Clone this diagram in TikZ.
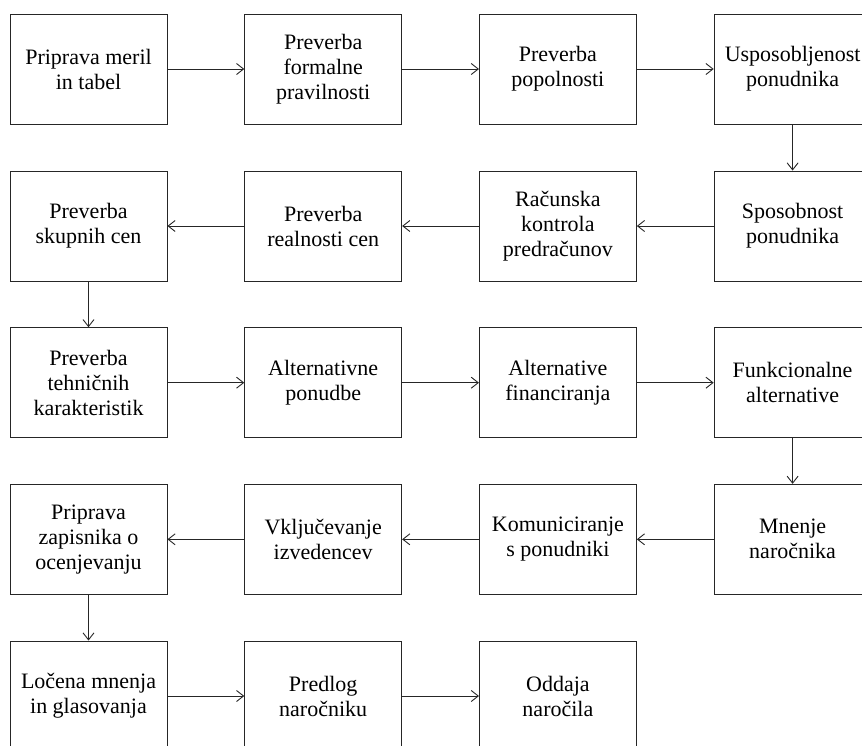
\documentclass[tikz,border=0pt]{standalone}
\usepackage{fontspec}
\setmainfont{Liberation Serif}
\usetikzlibrary{arrows.meta}
\begin{document}
\begin{tikzpicture}[x=1pt,y=-1pt,
  box/.style={draw=black!85, line width=0.9pt, minimum width=157pt, minimum height=110pt,
    inner sep=0pt, align=center, font=\fontsize{22}{25}\selectfont},
  flow/.style={draw=black!85, line width=0.9pt, -{Straight Barb[length=7pt,width=11pt,line width=0.9pt]}}]
\clip (0,0) rectangle (862,745);
\fill[white] (0,0) rectangle (862,745);
% columns 88.5, 323.2, 557.9, 792.6 ; rows 69, 226, 382.7, 539.3, 696
\node[box] (a1) at (88.5,69) {Priprava meril\\in tabel};
\node[box] (a2) at (323.2,69) {Preverba\\formalne\\pravilnosti};
\node[box] (a3) at (557.9,69) {Preverba\\popolnosti};
\node[box] (a4) at (792.6,69) {Usposobljenost\\ponudnika};
\node[box] (b4) at (792.6,226) {Sposobnost\\ponudnika};
\node[box] (b3) at (557.9,226) {Računska\\kontrola\\predračunov};
\node[box] (b2) at (323.2,226) {Preverba\\realnosti cen};
\node[box] (b1) at (88.5,226) {Preverba\\skupnih cen};
\node[box] (c1) at (88.5,382.7) {Preverba\\tehničnih\\karakteristik};
\node[box] (c2) at (323.2,382.7) {Alternativne\\ponudbe};
\node[box] (c3) at (557.9,382.7) {Alternative\\financiranja};
\node[box] (c4) at (792.6,382.7) {Funkcionalne\\alternative};
\node[box] (d4) at (792.6,539.3) {Mnenje\\naročnika};
\node[box] (d3) at (557.9,539.3) {Komuniciranje\\s ponudniki};
\node[box] (d2) at (323.2,539.3) {Vključevanje\\izvedencev};
\node[box] (d1) at (88.5,539.3) {Priprava\\zapisnika o\\ocenjevanju};
\node[box] (e1) at (88.5,696) {Ločena mnenja\\in glasovanja};
\node[box] (e2) at (323.2,696) {Predlog\\naročniku};
\node[box] (e3) at (557.9,696) {Oddaja\\naročila};
\draw[flow] (a1) -- (a2);
\draw[flow] (a2) -- (a3);
\draw[flow] (a3) -- (a4);
\draw[flow] (a4) -- (b4);
\draw[flow] (b4) -- (b3);
\draw[flow] (b3) -- (b2);
\draw[flow] (b2) -- (b1);
\draw[flow] (b1) -- (c1);
\draw[flow] (c1) -- (c2);
\draw[flow] (c2) -- (c3);
\draw[flow] (c3) -- (c4);
\draw[flow] (c4) -- (d4);
\draw[flow] (d4) -- (d3);
\draw[flow] (d3) -- (d2);
\draw[flow] (d2) -- (d1);
\draw[flow] (d1) -- (e1);
\draw[flow] (e1) -- (e2);
\draw[flow] (e2) -- (e3);
\end{tikzpicture}
\end{document}
